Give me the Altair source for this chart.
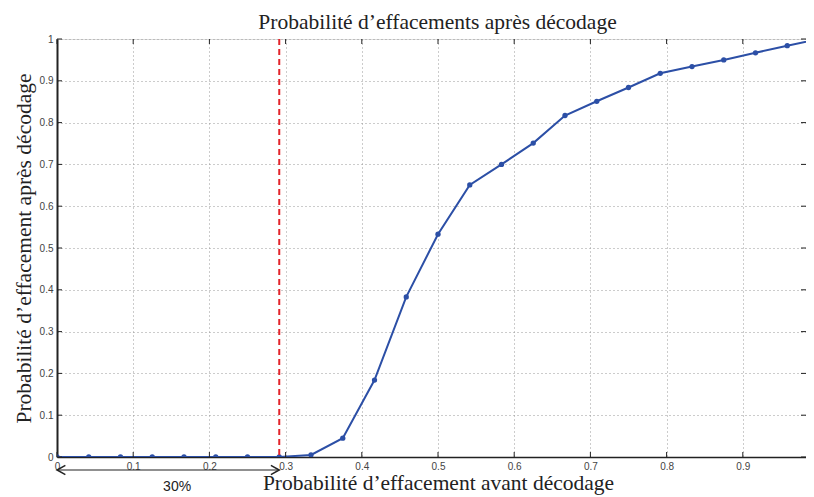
import altair as alt
import pandas as pd

# data (points at k/24)
x_vals = [k / 24 for k in range(25)]
y_vals = [0, 0, 0, 0, 0, 0, 0, 0,
          0.005, 0.045, 0.184, 0.383, 0.533, 0.651, 0.700, 0.751,
          0.817, 0.851, 0.884, 0.918, 0.934, 0.950, 0.967, 0.984, 1.0]
threshold = [7 / 24]
arrow_ends = [0.0, 7 / 24]
arrow_label = ["30%"]
x_ticks = [0, 0.1, 0.2, 0.3, 0.4, 0.5, 0.6, 0.7, 0.8, 0.9]
y_ticks = [0, 0.1, 0.2, 0.3, 0.4, 0.5, 0.6, 0.7, 0.8, 0.9, 1.0]

W, H = 749, 418
XMAX = 749 / 762
blue = "#2c4fa6"
serif = "Liberation Serif"
sans = "Liberation Sans"

df = pd.DataFrame({"x": x_vals, "y": y_vals})
xs = alt.Scale(domain=[0, XMAX], nice=False, zero=False)
ys = alt.Scale(domain=[0, 1], nice=False)

xaxis = alt.Axis(values=x_ticks, format=".1~f", title="Probabilité d’effacement avant décodage",
                 titleFont=serif, titleFontSize=21.5, titleFontWeight="normal", titleColor="#222",
                 titlePadding=1, titleX=381, titleAlign="center",
                 labelFont=sans, labelFontSize=10, labelColor="#444",
                 labelPadding=4, tickSize=0, grid=True, gridDash=[1, 3], gridColor="#999",
                 domainColor="#222", domainWidth=1.5, labelFlush=False)
yaxis = alt.Axis(values=y_ticks, format=".1~f", title="Probabilité d’effacement après décodage",
                 titleFont=serif, titleFontSize=21.5, titleFontWeight="normal", titleColor="#222",
                 titlePadding=4, labelFont=sans, labelFontSize=10, labelColor="#444",
                 labelPadding=4, tickSize=0, grid=True, gridDash=[1, 3], gridColor="#999",
                 domainColor="#222", domainWidth=2)

base = alt.Chart(df)
line = base.mark_line(color=blue, strokeWidth=2, clip=True).encode(
    x=alt.X("x:Q", scale=xs, axis=xaxis), y=alt.Y("y:Q", scale=ys, axis=yaxis))
pts = base.mark_point(color=blue, filled=True, size=28, opacity=1, clip=True).encode(
    x=alt.X("x:Q", scale=xs), y=alt.Y("y:Q", scale=ys))

# inward ticks
xt = alt.Chart(pd.DataFrame({"t": x_ticks})).mark_rule(color="#222", strokeWidth=1).encode(
    x=alt.X("t:Q", scale=xs), y=alt.value(H), y2=alt.value(H - 5))
xt2 = alt.Chart(pd.DataFrame({"t": x_ticks})).mark_rule(color="#222", strokeWidth=1).encode(
    x=alt.X("t:Q", scale=xs), y=alt.value(0), y2=alt.value(5))
yt = alt.Chart(pd.DataFrame({"t": y_ticks})).mark_rule(color="#222", strokeWidth=1).encode(
    y=alt.Y("t:Q", scale=ys), x=alt.value(0), x2=alt.value(5))
yt2 = alt.Chart(pd.DataFrame({"t": y_ticks})).mark_rule(color="#222", strokeWidth=1).encode(
    y=alt.Y("t:Q", scale=ys), x=alt.value(W), x2=alt.value(W - 5))

thr = alt.Chart(pd.DataFrame({"t": threshold})).mark_rule(
    color="#e3242b", strokeWidth=2, strokeDash=[6, 4]).encode(
    x=alt.X("t:Q", scale=xs), y=alt.value(0), y2=alt.value(H))

arr = alt.Chart(pd.DataFrame({"a": [arrow_ends[0]], "b": [arrow_ends[1]]})).mark_rule(
    color="#222", strokeWidth=1.2).encode(
    x=alt.X("a:Q", scale=xs), x2="b:Q", y=alt.value(H + 13))
heads = alt.Chart(pd.DataFrame({"a": arrow_ends, "dir": ["L", "R"]})).mark_point(
    filled=False, strokeWidth=1.5, color="#222", size=280, opacity=1).encode(
    x=alt.X("a:Q", scale=xs), y=alt.value(H + 13),
    shape=alt.Shape("dir:N", scale=alt.Scale(domain=["L", "R"],
                    range=["M 1 -0.55 L 0 0 L 1 0.55", "M -1 -0.55 L 0 0 L -1 0.55"]), legend=None))
lab = alt.Chart(pd.DataFrame({"m": [sum(arrow_ends) / 2], "t": arrow_label})).mark_text(
    font=sans, fontSize=14, color="#222", dx=9).encode(
    x=alt.X("m:Q", scale=xs), y=alt.value(H + 30), text="t:N")

chart = alt.layer(line, pts, xt, xt2, yt, yt2, thr, arr, heads, lab).properties(
    width=W, height=H,
    title=alt.TitleParams("Probabilité d’effacements après décodage", font=serif, fontSize=21.5,
                          fontWeight="normal", color="#222", offset=1, dx=6),
    autosize=alt.AutoSizeParams(type="none"),
    padding={"left": 49, "top": 31, "right": 0, "bottom": 40},
).configure_view(stroke="#222", strokeWidth=1.5).configure(background="white")

chart.save("out.html", embed_options={"renderer": "svg", "actions": False})
